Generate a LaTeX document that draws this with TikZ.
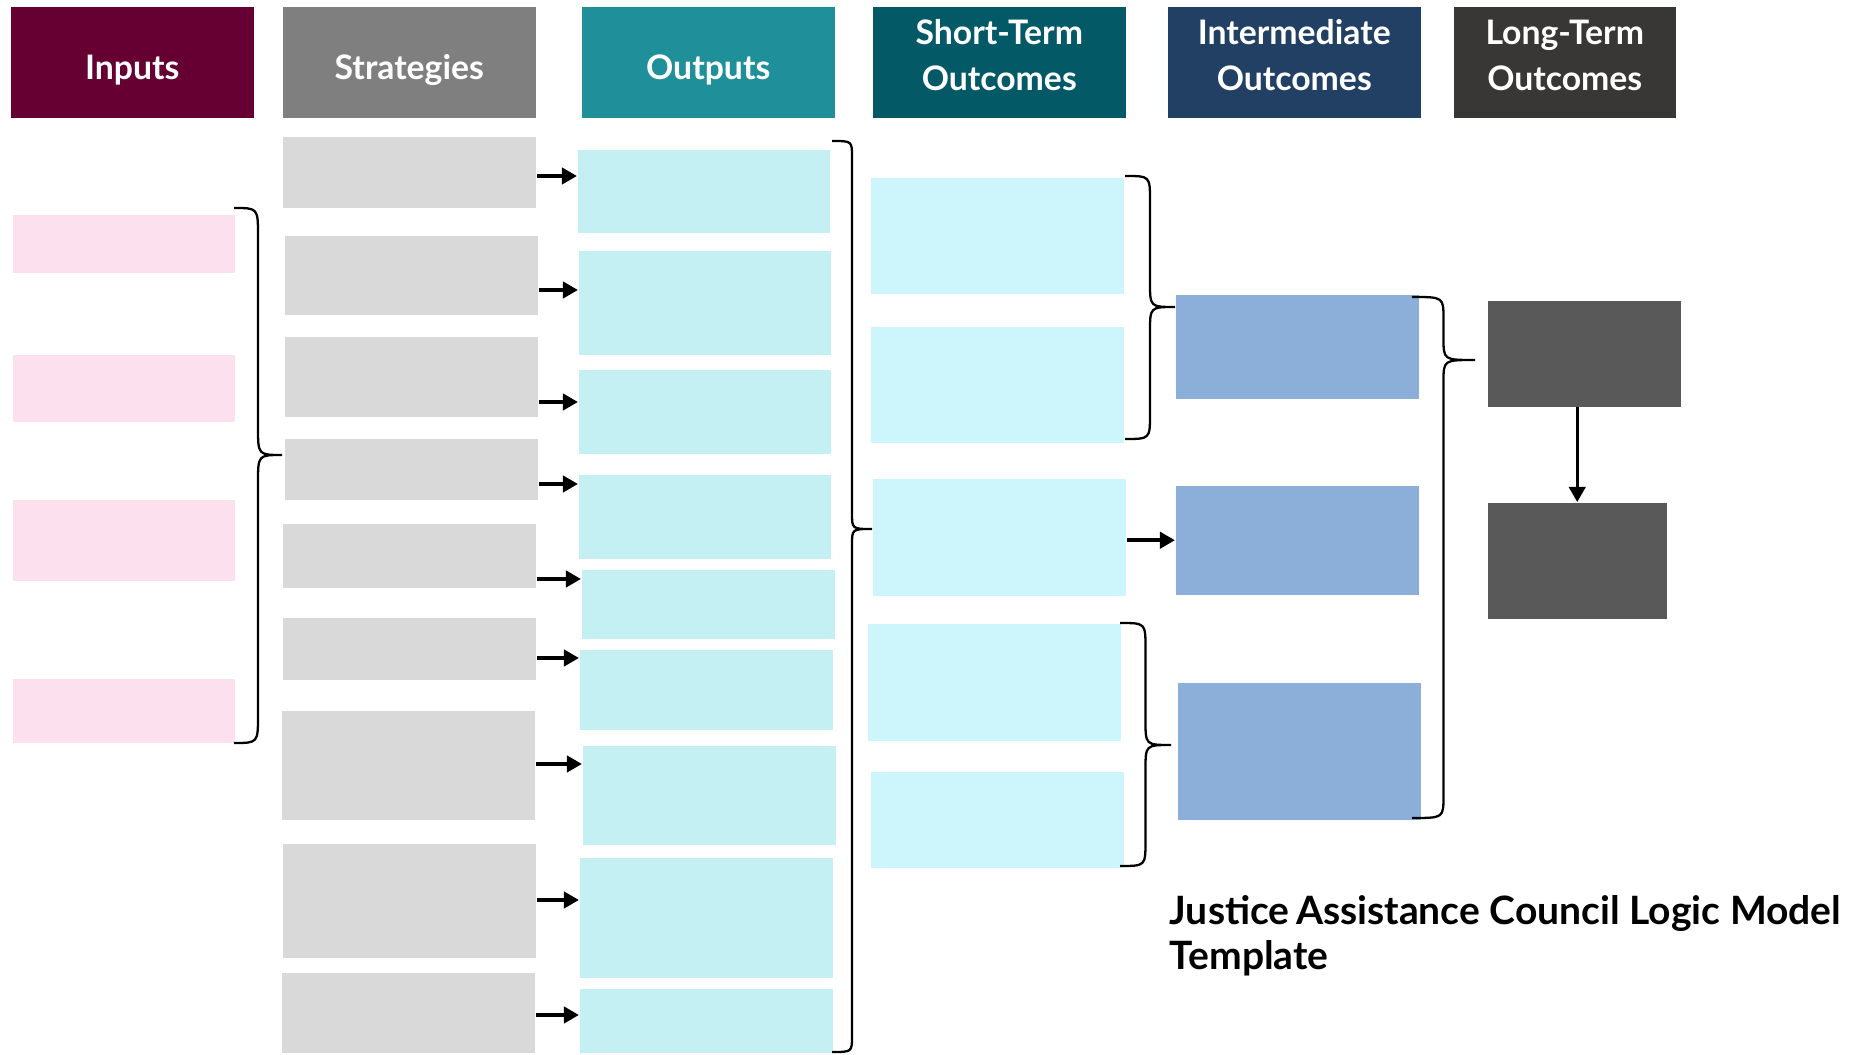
\documentclass[tikz,border=0pt]{standalone}
\usepackage{fontspec}
\setmainfont{Lato}
\usetikzlibrary{arrows.meta}
\definecolor{maroonInput}{RGB}{102,0,51}
\definecolor{greyStrategy}{RGB}{127,127,127}
\definecolor{tealOutput}{RGB}{31,144,153}
\definecolor{tealShort}{RGB}{3,89,102}
\definecolor{navyInter}{RGB}{33,64,99}
\definecolor{charcoalLong}{RGB}{57,55,53}
\definecolor{pinkBox}{RGB}{253,224,238}
\definecolor{greyBox}{RGB}{217,217,217}
\definecolor{cyanOutput}{RGB}{197,240,243}
\definecolor{cyanShort}{RGB}{204,246,252}
\definecolor{blueInter}{RGB}{139,175,216}
\definecolor{greyLong}{RGB}{89,89,89}

% curly bracket opening to the right: x, top, bottom, tip, amplitude, curl
\newcommand{\curlyR}[6]{%
  \draw[brc] (#1,#2) .. controls ({#1+#5/2},#2) .. ({#1+#5/2},{#2+#6})
    -- ({#1+#5/2},{#4-#6}) .. controls ({#1+#5/2},#4) .. ({#1+#5},#4)
    .. controls ({#1+#5/2},#4) .. ({#1+#5/2},{#4+#6})
    -- ({#1+#5/2},{#3-#6}) .. controls ({#1+#5/2},#3) .. (#1,#3);}

\begin{document}
\begin{tikzpicture}[x=0.01cm, y=-0.01cm,
  box/.style={anchor=north west, inner sep=0pt, minimum width=2.53cm},
  hd/.style={box, minimum height=1.11cm, text=white, align=center,
    font=\bfseries\fontsize{9.6}{13.2}\selectfont},
  hdOne/.style={hd, text height=10.1pt, text depth=0pt},
  hdTwo/.style={hd, text depth=4pt},
  inp/.style={box, fill=pinkBox, minimum width=2.22cm},
  strat/.style={box, fill=greyBox},
  outp/.style={box, fill=cyanOutput},
  shortT/.style={box, fill=cyanShort},
  interT/.style={box, fill=blueInter, minimum width=2.43cm},
  longT/.style={box, fill=greyLong},
  arr/.style={line width=1.1pt, -{Triangle[length=4.3pt, width=4.6pt]}},
  brc/.style={line width=0.65pt},
]
  \useasboundingbox (0,0) rectangle (1859,1055);

  % column heads
  \node[hdOne, fill=maroonInput, minimum width=2.43cm] at (10,6) (hIn) {Inputs};
  \node[hdOne, fill=greyStrategy] at (282,6) (hStrat) {Strategies};
  \node[hdOne, fill=tealOutput] at (581,6) (hOut) {Outputs};
  \node[hdTwo, fill=tealShort] at (872,6) (hShort) {Short-Term\\Outcomes};
  \node[hdTwo, fill=navyInter] at (1167,6) (hInter) {Intermediate\\Outcomes};
  \node[hdTwo, fill=charcoalLong, minimum width=2.22cm] at (1453,6) (hLong) {Long-Term\\Outcomes};

  % inputs
  \node[inp, minimum height=0.58cm] at (12,214) (in1) {};
  \node[inp, minimum height=0.67cm] at (12,354) (in2) {};
  \node[inp, minimum height=0.81cm] at (12,499) (in3) {};
  \node[inp, minimum height=0.64cm] at (12,678) (in4) {};

  % strategies
  \node[strat, minimum height=0.71cm] at (282,136) (s1) {};
  \node[strat, minimum height=0.79cm] at (284,235) (s2) {};
  \node[strat, minimum height=0.80cm] at (284,336) (s3) {};
  \node[strat, minimum height=0.61cm] at (284,438) (s4) {};
  \node[strat, minimum height=0.64cm] at (282,523) (s5) {};
  \node[strat, minimum height=0.62cm] at (282,617) (s6) {};
  \node[strat, minimum height=1.09cm] at (281,710) (s7) {};
  \node[strat, minimum height=1.14cm] at (282,843) (s8) {};
  \node[strat, minimum height=0.80cm] at (281,972) (s9) {};

  % outputs
  \node[outp, minimum height=0.83cm, minimum width=2.52cm] at (577,149) (o1) {};
  \node[outp, minimum height=1.04cm, minimum width=2.52cm] at (578,250) (o2) {};
  \node[outp, minimum height=0.84cm, minimum width=2.52cm] at (578,369) (o3) {};
  \node[outp, minimum height=0.84cm, minimum width=2.52cm] at (578,474) (o4) {};
  \node[outp, minimum height=0.69cm] at (581,569) (o5) {};
  \node[outp, minimum height=0.80cm] at (579,649) (o6) {};
  \node[outp, minimum height=0.99cm] at (582,745) (o7) {};
  \node[outp, minimum height=1.20cm] at (579,857) (o8) {};
  \node[outp, minimum height=0.64cm] at (579,988) (o9) {};

  % short-term outcomes
  \node[shortT, minimum height=1.16cm] at (870,177) (t1) {};
  \node[shortT, minimum height=1.16cm] at (870,326) (t2) {};
  \node[shortT, minimum height=1.17cm] at (872,478) (t3) {};
  \node[shortT, minimum height=1.17cm] at (867,623) (t4) {};
  \node[shortT, minimum height=0.96cm] at (870,771) (t5) {};

  % intermediate outcomes
  \node[interT, minimum height=1.04cm] at (1175,294) (m1) {};
  \node[interT, minimum height=1.09cm] at (1175,485) (m2) {};
  \node[interT, minimum height=1.37cm] at (1177,682) (m3) {};

  % long-term outcomes
  \node[longT, minimum height=1.06cm, minimum width=1.93cm] at (1487,300) (l1) {};
  \node[longT, minimum height=1.16cm, minimum width=1.79cm] at (1487,502) (l2) {};

  \foreach \i/\y in {1/176,2/290,3/402,4/484,5/579,6/658,7/764,8/900,9/1015}
    \draw[arr] (s\i.east |- 0,\y) -- (o\i.west |- 0,\y);
  \draw[arr] (t3.east |- m2.west) -- (m2.west);
  \draw[line width=0.85pt, -{Triangle[length=4.3pt, width=4.7pt]}] (l2.north |- l1.south) -- (l2.north);

  \curlyR{234}{208}{743}{455}{48}{28}
  \curlyR{832}{141}{1052}{529}{40}{16}
  \curlyR{1125}{176}{439}{307}{50}{25}
  \curlyR{1120}{623}{866}{745}{51}{25}
  \curlyR{1412}{297}{818}{360}{63}{22}

  \node[anchor=north west, inner sep=0pt, align=left,
    font=\bfseries\fontsize{11.1}{12.6}\selectfont] at (1169,895) (title)
    {Justice\,Assistance Council Logic Model\\Template};
\end{tikzpicture}
\end{document}
